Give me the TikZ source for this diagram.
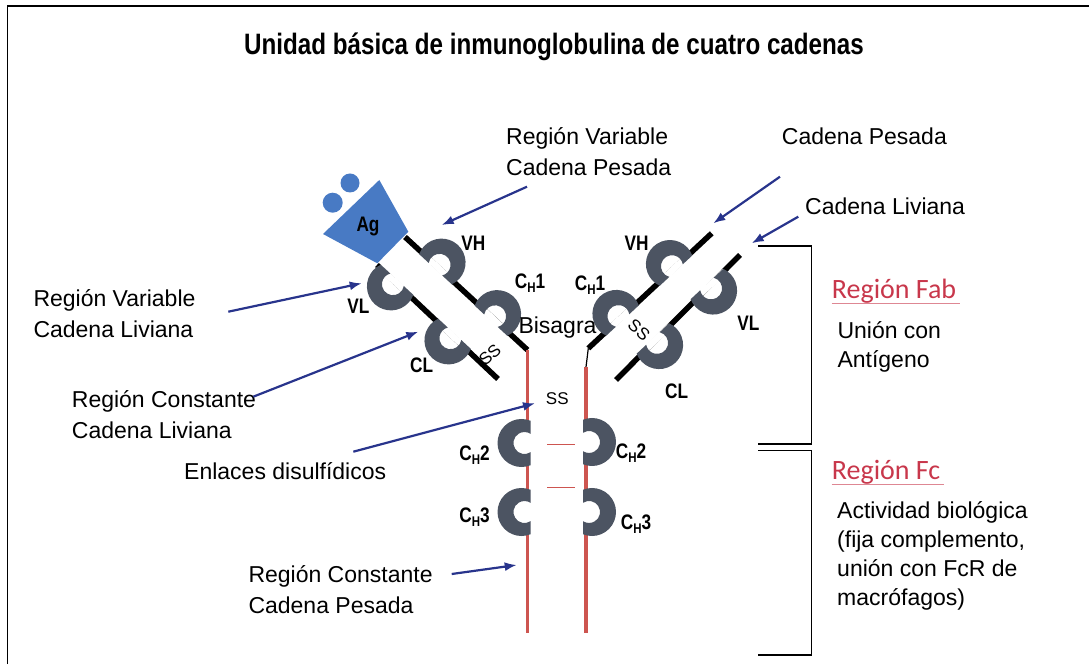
\documentclass[tikz,border=0pt]{standalone}
\usepackage{fontspec}
\setmainfont{Liberation Sans}
\newfontfamily\narrowbf{Liberation Sans}[FakeStretch=0.82]
\newfontfamily\calibri{Carlito}
\usetikzlibrary{arrows.meta}
\definecolor{igchainred}{RGB}{205,85,80}
\definecolor{igdomgray}{RGB}{76,84,98}
\definecolor{igagblue}{RGB}{72,122,196}
\definecolor{ignavy}{RGB}{40,52,140}
\definecolor{igfabred}{RGB}{200,55,75}
\tikzset{
  igchain/.style={line width=5.5pt, draw=black, line cap=butt},
  ighinge/.style={line width=1.2pt, draw=black},
  igfc/.style={line width=3.5pt, draw=igchainred, line cap=butt},
  igssbar/.style={line width=1.4pt, draw=igchainred},
  igdomain/.style={fill=igdomgray},
  iggap/.style={fill=white},
  igag/.style={fill=igagblue},
  igarrow/.style={line width=2.2pt, draw=ignavy, -{Latex[length=12pt,width=9pt]}},
  igframe/.style={line width=1.8pt, draw=black},
  igbracket/.style={line width=1.3pt, draw=black},
  igunder/.style={line width=1pt, draw=igfabred!60},
  igtext/.style={font=\fontsize{23}{31}\selectfont, inner sep=0pt, align=left, anchor=base west},
  igside/.style={font=\fontsize{23}{29}\selectfont, inner sep=0pt, align=left, anchor=base west},
  igregion/.style={font=\calibri\fontsize{28}{28}\selectfont, text=igfabred, inner sep=0pt, anchor=base west},
  igdlabel/.style={font=\narrowbf\bfseries\fontsize{21}{21}\selectfont, inner sep=0pt},
  igsslabel/.style={font=\fontsize{17}{17}\selectfont, inner sep=0pt},
  igtitle/.style={font=\narrowbf\bfseries\fontsize{29.5}{29.5}\selectfont, inner sep=0pt, anchor=base},
}
% one C-shaped domain sitting on the chain at (#1,#2); the chain is hidden under it
\newcommand\igfold[3]{%
  \begin{scope}[shift={(#1,#2)}, rotate=#3]
    \fill[iggap] (-3,-21.5) rectangle (3.3,21.5);
    \fill[igdomain] (3,22.25) arc[start angle=68, end angle=292, radius=24]
      -- (3,-9.22) arc[start angle=-56.9, end angle=-303.1, radius=11] -- cycle;
  \end{scope}}
\newcommand\igch[1]{C\raisebox{-0.4ex}{\fontsize{14}{14}\selectfont H}#1}

\begin{document}
\begin{tikzpicture}[x=1pt,y=1pt]
\useasboundingbox (0,0) rectangle (1089,664);
\draw[igframe] (7.5,0) -- (7.5,658) -- (1089,658);

\node[igtitle] (title) at (554,609) {Unidad básica de inmunoglobulina de cuatro cadenas};

% chain ends
\coordinate (lh-top) at (405,427);
\coordinate (lh-hinge) at (527.5,314);
\coordinate (ll-top) at (377,399);
\coordinate (ll-end) at (498,285);
\coordinate (rh-top) at (711.7,430.7);
\coordinate (rh-hinge) at (588.3,315.7);
\coordinate (rh-fc) at (586,297);
\coordinate (rl-top) at (740,409);
\coordinate (rl-end) at (616,284);
\coordinate (lfc-end) at (527.5,31);
\coordinate (rfc-end) at (586,31);

% chains
\draw[igchain] (lh-top) -- (lh-hinge);
\draw[igchain] (ll-top) -- (ll-end);
\draw[igchain] (rh-top) -- (rh-hinge);
\draw[igchain] (rl-top) -- (rl-end);
\draw[ighinge] (rh-hinge) -- (rh-fc);
\draw[igfc] (lh-hinge) -- (lfc-end);
\draw[igfc] (rh-fc) -- (rfc-end);
\draw[igssbar] (547,219.7) -- (575,219.7);
\draw[igssbar] (547,176.7) -- (575,176.7);

% domains
\igfold{437.5}{397}{227.2}
\igfold{493}{345.5}{227.2}
\igfold{395}{382}{47.2}
\igfold{452.5}{328}{47.2}
\igfold{674}{395.6}{-47}
\igfold{620.5}{345.7}{-47}
\igfold{709}{377.8}{133}
\igfold{655}{323.3}{133}
\igfold{527.5}{221}{0}
\igfold{527.5}{152}{0}
\igfold{586}{222}{180}
\igfold{586}{152}{180}

% antigen
\fill[igag] (323,430) -- (379.3,484) -- (408.3,432.3) -- (377.3,400.7) -- cycle;
\fill[igag] (332.7,461.3) circle (10);
\fill[igag] (350,481) circle (9.5);
\node[igdlabel] (ag) at (368,437) {Ag};

% domain labels
\node[igdlabel] (vh-l) at (473.3,420.7) {VH};
\node[igdlabel] (ch1-l) at (530,380.7) {\igch{1}};
\node[igdlabel] (vl-l) at (358.3,357.3) {VL};
\node[igdlabel] (cl-l) at (421.7,299) {CL};
\node[igdlabel] (vh-r) at (636.7,420.7) {VH};
\node[igdlabel] (ch1-r) at (590,379) {\igch{1}};
\node[igdlabel] (vl-r) at (748.3,340.7) {VL};
\node[igdlabel] (cl-r) at (676.7,272.3) {CL};
\node[igdlabel] (ch2-l) at (474.6,209) {\igch{2}};
\node[igdlabel] (ch3-l) at (474.6,147) {\igch{3}};
\node[igdlabel] (ch2-r) at (631,211) {\igch{2}};
\node[igdlabel] (ch3-r) at (636,140) {\igch{3}};
\node[igtext] (bisagra) at (518.3,330.7) {Bisagra};
\node[igsslabel, rotate=42] (ss-l) at (490,309) {SS};
\node[igsslabel, rotate=-42] (ss-r) at (639,334) {SS};
\node[igsslabel] (ss-fc) at (557.3,265.7) {SS};

% callouts
\node[igtext] (rvcp) at (506,488.3) {Región Variable\\Cadena Pesada};
\node[igtext] (cp) at (781.7,519.7) {Cadena Pesada};
\node[igtext] (cliv) at (805,449) {Cadena Liviana};
\node[igtext] (rvcl) at (33.3,326.7) {Región Variable\\Cadena Liviana};
\node[igtext] (rccl) at (71.7,225.7) {Región Constante\\Cadena Liviana};
\node[igtext] (ed) at (184,184) {Enlaces disulfídicos};
\node[igtext] (rccp) at (248.3,50.7) {Región Constante\\Cadena Pesada};

\coordinate (rvcp-from) at (527,477.3);
\coordinate (rvcp-to) at (441.7,439);
\coordinate (cp-from) at (780,487.3);
\coordinate (cp-to) at (713.3,440.7);
\coordinate (cliv-from) at (798.3,447.3);
\coordinate (cliv-to) at (751.7,420.7);
\coordinate (rvcl-from) at (228.3,352.3);
\coordinate (rvcl-to) at (361.7,380.7);
\coordinate (rccl-from) at (253.3,267.3);
\coordinate (rccl-to) at (418.3,332.3);
\coordinate (ed-from) at (353.3,212.3);
\coordinate (ed-to) at (535,260.7);
\coordinate (rccp-from) at (451.7,90);
\coordinate (rccp-to) at (516.7,99);

\draw[igarrow] (rvcp-from) -- (rvcp-to);
\draw[igarrow] (cp-from) -- (cp-to);
\draw[igarrow] (cliv-from) -- (cliv-to);
\draw[igarrow] (rvcl-from) -- (rvcl-to);
\draw[igarrow] (rccl-from) -- (rccl-to);
\draw[igarrow] (ed-from) -- (ed-to);
\draw[igarrow] (rccp-from) -- (rccp-to);

% Fab / Fc brackets
\draw[igbracket] (758,418) -- (811.7,418) -- (811.7,220) -- (758,220);
\draw[igbracket] (758,213.3) -- (811.7,213.3) -- (811.7,9) -- (758,9);

\node[igregion] (fab) at (831.7,365.7) {Región Fab};
\draw[igunder] ([yshift=-5pt]fab.base west) -- ([yshift=-5pt,xshift=4pt]fab.base east);
\node[igside] (fabtxt) at (837.3,296.7) {Unión con\\Antígeno};
\node[igregion] (fc) at (831.7,184) {Región Fc};
\draw[igunder] ([yshift=-5pt]fc.base west) -- ([yshift=-5pt,xshift=4pt]fc.base east);
\node[igside] (fctxt) at (837,59) {Actividad biológica\\(fija complemento,\\unión con FcR de\\macrófagos)};
\end{tikzpicture}
\end{document}
